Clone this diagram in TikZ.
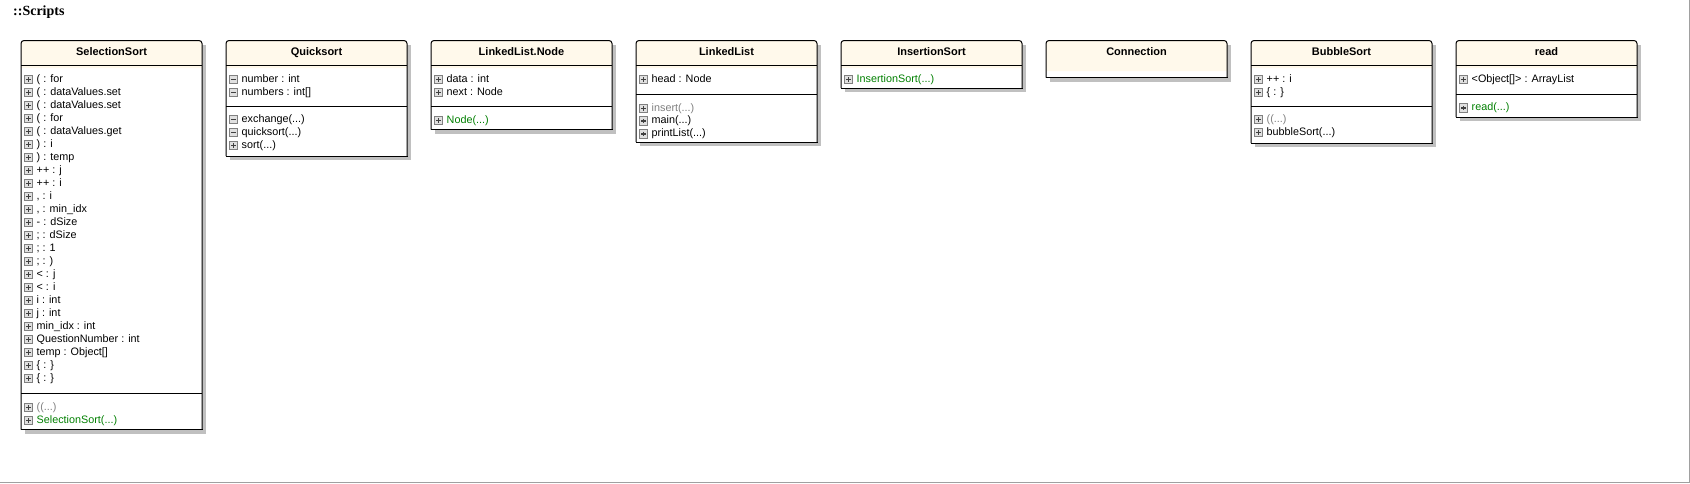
\documentclass[tikz,border=0pt]{standalone}
\usepackage{fontspec}
\setmainfont{Liberation Sans}
\newfontfamily\titlefont{Liberation Serif}
\definecolor{creamc}{HTML}{FFF9EB}
\definecolor{shadowc}{HTML}{C0C0C0}
\definecolor{greenc}{HTML}{008000}
\definecolor{grayc}{HTML}{808080}
\definecolor{icond}{HTML}{808080}
\definecolor{iconf}{HTML}{E0E0E0}
\definecolor{plusc}{HTML}{404040}
\definecolor{framec}{HTML}{A0A0A0}
\tikzset{
  boxline/.style={draw=black, line width=1pt},
  sepl/.style={draw=black, line width=1pt},
  titletext/.style={inner sep=0pt, font=\bfseries\fontsize{11}{13}\selectfont, text height=8pt, text depth=2pt},
  rowtext/.style={anchor=west, inner sep=0pt, font=\fontsize{10.8}{12}\selectfont, text height=7.5pt, text depth=2pt},
  greentext/.style={text=greenc},
  graytext/.style={text=grayc},
  iconp/.style={draw=icond, fill=iconf, line width=0.8pt, minimum size=8.5pt, inner sep=0pt,
    path picture={
      \draw[plusc, line width=1.1pt] ([xshift=2pt]path picture bounding box.west) -- ([xshift=-2pt]path picture bounding box.east);
      \draw[plusc, line width=1.1pt] ([yshift=-2pt]path picture bounding box.north) -- ([yshift=2pt]path picture bounding box.south);}},
  iconm/.style={draw=icond, fill=iconf, line width=0.8pt, minimum size=8.5pt, inner sep=0pt,
    path picture={
      \draw[plusc, line width=1.1pt] ([xshift=2pt]path picture bounding box.west) -- ([xshift=-2pt]path picture bounding box.east);}}
}
% #1 id, #2 left, #3 bottom, #4 cream bottom, #5 title
\newcommand\classbox[5]{%
  \fill[shadowc] ({#2+4},44.5) rectangle ({#2+185},{#3+4});
  \fill[white,rounded corners=3pt] (#2,#3) -- (#2,40.5) -- ({#2+181},40.5) -- ({#2+181},#3);
  \fill[creamc,rounded corners=3pt] (#2,#4) -- (#2,40.5) -- ({#2+181},40.5) -- ({#2+181},#4);
  \node[titletext] (#1) at ({#2+90.5},52) {#5};
  \draw[boxline,rounded corners=3pt] (#2,#3) -- (#2,40.5) -- ({#2+181},40.5) -- ({#2+181},#3);
  \draw[boxline,line cap=rect] (#2,#3) -- ({#2+181},#3);
}
\newcommand\sepline[2]{\draw[sepl] (#1,#2) -- ({#1+181},#2);}
% #1 name, #2 left, #3 y, #4 icon style, #5 text style, #6 text
\newcommand\mrow[6]{%
  \node[#4] (#1i) at ({#2+7.5},#3) {};
  \node[rowtext,#5] (#1) at ({#2+15.5},#3) {#6};
}
\begin{document}
\begin{tikzpicture}[x=1pt,y=-1pt]
\useasboundingbox (0,0) rectangle (1690,483);
\fill[white] (0,0) rectangle (1690,483);
\node[anchor=west, inner sep=0pt, font=\titlefont\bfseries\fontsize{14}{16}\selectfont] (title) at (13,12) {::Scripts};

% SelectionSort
\classbox{selsort}{21}{429.5}{68}{SelectionSort}
\sepline{21}{65.5}
\mrow{ssa1}{21}{79.5}{iconp}{}{( : for}
\mrow{ssa2}{21}{92.5}{iconp}{}{( : dataValues.set}
\mrow{ssa3}{21}{105.5}{iconp}{}{( : dataValues.set}
\mrow{ssa4}{21}{118.5}{iconp}{}{( : for}
\mrow{ssa5}{21}{131.5}{iconp}{}{( : dataValues.get}
\mrow{ssa6}{21}{144.5}{iconp}{}{) : i}
\mrow{ssa7}{21}{157.5}{iconp}{}{) : temp}
\mrow{ssa8}{21}{170.5}{iconp}{}{++ : j}
\mrow{ssa9}{21}{183.5}{iconp}{}{++ : i}
\mrow{ssa10}{21}{196.5}{iconp}{}{, : i}
\mrow{ssa11}{21}{209.5}{iconp}{}{, : min\_idx}
\mrow{ssa12}{21}{222.5}{iconp}{}{- : dSize}
\mrow{ssa13}{21}{235.5}{iconp}{}{; : dSize}
\mrow{ssa14}{21}{248.5}{iconp}{}{; : 1}
\mrow{ssa15}{21}{261.5}{iconp}{}{; : )}
\mrow{ssa16}{21}{274.5}{iconp}{}{< : j}
\mrow{ssa17}{21}{287.5}{iconp}{}{< : i}
\mrow{ssa18}{21}{300.5}{iconp}{}{i : int}
\mrow{ssa19}{21}{313.5}{iconp}{}{j : int}
\mrow{ssa20}{21}{326.5}{iconp}{}{min\_idx : int}
\mrow{ssa21}{21}{339.5}{iconp}{}{QuestionNumber : int}
\mrow{ssa22}{21}{352.5}{iconp}{}{temp : Object[]}
\mrow{ssa23}{21}{365.5}{iconp}{}{\{ : \}}
\mrow{ssa24}{21}{378.5}{iconp}{}{\{ : \}}
\sepline{21}{393}
\mrow{ssm1}{21}{407.5}{iconp}{graytext}{((...)}
\mrow{ssm2}{21}{420.5}{iconp}{greentext}{SelectionSort(...)}

% Quicksort
\classbox{qsort}{226}{156}{68}{Quicksort}
\sepline{226}{65.5}
\mrow{qsa1}{226}{79.5}{iconm}{}{number : int}
\mrow{qsa2}{226}{92.5}{iconm}{}{numbers : int[]}
\sepline{226}{106.5}
\mrow{qsm1}{226}{119.5}{iconm}{}{exchange(...)}
\mrow{qsm2}{226}{132.5}{iconm}{}{quicksort(...)}
\mrow{qsm3}{226}{145.5}{iconp}{}{sort(...)}

% LinkedList.Node
\classbox{llnode}{431}{129.5}{68}{LinkedList.Node}
\sepline{431}{65.5}
\mrow{lna1}{431}{79.5}{iconp}{}{data : int}
\mrow{lna2}{431}{92.5}{iconp}{}{next : Node}
\sepline{431}{106.5}
\mrow{lnm1}{431}{120.5}{iconp}{greentext}{Node(...)}

% LinkedList
\classbox{llist}{636}{142}{68}{LinkedList}
\sepline{636}{65.5}
\mrow{lla1}{636}{79.5}{iconp}{}{head : Node}
\sepline{636}{94}
\mrow{llm1}{636}{108.5}{iconp}{graytext}{insert(...)}
\mrow{llm2}{636}{121}{iconp}{}{main(...)}
\mrow{llm3}{636}{134}{iconp}{}{printList(...)}

% InsertionSort
\classbox{inssort}{841}{88}{68}{InsertionSort}
\sepline{841}{65.5}
\mrow{ism1}{841}{79.5}{iconp}{greentext}{InsertionSort(...)}

% Connection
\classbox{conn}{1046}{77.5}{71}{Connection}

% BubbleSort
\classbox{bsort}{1251}{143}{68}{BubbleSort}
\sepline{1251}{65.5}
\mrow{bsa1}{1251}{79.5}{iconp}{}{++ : i}
\mrow{bsa2}{1251}{92.5}{iconp}{}{\{ : \}}
\sepline{1251}{106.5}
\mrow{bsm1}{1251}{119.5}{iconp}{graytext}{((...)}
\mrow{bsm2}{1251}{132.5}{iconp}{}{bubbleSort(...)}

% read
\classbox{readc}{1456}{117}{68}{read}
\sepline{1456}{65.5}
\mrow{rda1}{1456}{79.5}{iconp}{}{<Object[]> : ArrayList}
\sepline{1456}{94}
\mrow{rdm1}{1456}{108}{iconp}{greentext}{read(...)}

% frame
\draw[framec, line width=1.5pt] (1689.25,0) -- (1689.25,482.25) -- (0,482.25);
\end{tikzpicture}
\end{document}
